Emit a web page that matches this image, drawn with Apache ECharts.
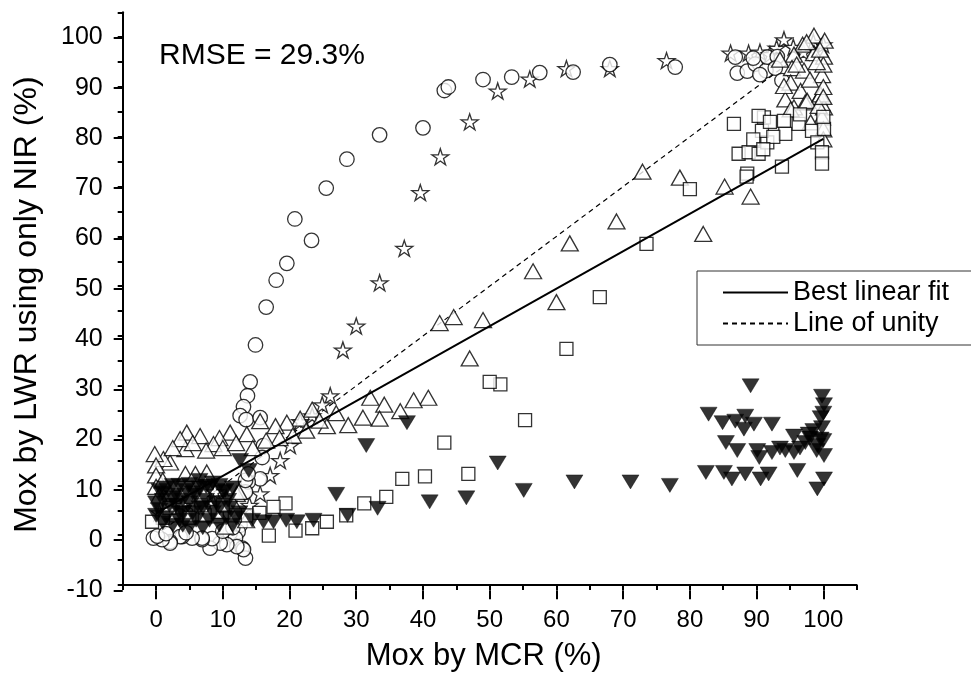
<!DOCTYPE html>
<html><head><meta charset="utf-8">
<script src="https://cdn.jsdelivr.net/npm/echarts@6/dist/echarts.min.js"></script>
<style>html,body{margin:0;padding:0;background:#fff}#c{width:971px;height:677px}</style>
</head><body><div id="c"></div>
<script>
// ---- data (Mox by MCR %, Mox by LWR using only NIR %) ----
const circles = [
  [43.2,89.3],[43.8,90.0],[49.0,91.5],[53.3,92.0],[57.5,92.9],[62.5,93.0],[68.0,94.5],[77.8,94.0],
  [86.8,96.0],[87.1,92.8],[88.6,93.2],[89.8,94.6],[91.4,93.3],[91.6,96.0],[93.1,96.1],[92.8,93.8],
  [93.8,91.3],[89.5,95.8],[90.5,92.5],
  [40.0,81.8],[33.5,80.4],[28.6,75.5],[25.5,69.7],[23.3,59.2],[20.8,63.5],[19.6,54.6],[18.0,51.2],
  [16.5,45.8],[14.9,38.2],[14.1,30.8],[13.7,28.0],[13.1,25.8],[12.6,24.0],[13.5,23.2],[15.6,23.6],
  [16.1,18.0],[15.6,11.3],[13.8,10.7],[13.4,8.7],[13.4,11.0],[13.8,12.3],[15.9,15.6],
  [12.6,2.0],[12.3,0.7],[11.1,0.4],[11.9,-0.6],[12.9,-2.6],[13.4,-4.6],[13.1,-2.9],[12.1,-2.3],
  [10.6,-1.9],[9.6,-1.6],[8.1,-2.6],[8.4,-0.7],[6.9,-0.9],[6.9,-0.6],[5.4,-0.6],[3.9,-0.3],[3.6,-0.3],
  [2.1,-1.3],[2.1,-1.6],[0.9,-0.9],[-0.4,-0.6],[0.2,-0.2],[1.5,0.3],[4.5,0.5],[10.0,0.8],[11.5,1.5]
];
const stars = [
  [76.5,95.3],[68.0,93.7],[61.5,93.7],[56.0,91.6],[51.2,89.2],[47.0,83.0],[42.6,76.0],[39.6,68.8],
  [37.2,57.6],[33.5,50.7],[30.0,42.0],[28.0,37.2],[26.1,28.0],[24.9,26.2],[23.4,24.0],[21.6,22.8],
  [20.1,18.0],[18.6,15.0],[17.1,12.0],[15.6,8.3],[8.8,8.7],[8.6,6.4],[6.0,5.5],[4.0,6.0],[2.0,5.0],
  [0.5,4.5],[10.5,7.5],[12.0,5.0],[14.0,6.0],
  [86.1,96.8],[88.8,96.8],[90.5,97.0],[92.0,96.5],[94.1,99.5],[95.5,98.0],[97.0,97.0],[98.5,99.0],
  [100.0,98.5],[93.0,97.8]
];
const triangles = [
  [98.6,100.3],[96.9,98.5],[95.6,96.5],[98.6,96.8],[100.2,99.3],[100.1,96.1],[95.3,93.8],[97.1,93.3],
  [99.8,92.4],[95.1,90.9],[96.6,89.2],[99.3,87.9],[94.3,87.5],[95.6,85.9],[97.3,86.9],[100.1,85.9],
  [99.8,83.9],[98.1,82.9],[94.1,90.2],[97.6,87.2],[99.6,88.5],[99.3,86.2],[95.1,85.5],[100.0,94.5],
  [99.0,95.0],[98.0,91.5],[100.0,90.0],[96.0,94.5],[100.0,81.5],[100.0,79.5],[99.5,97.5],[97.5,99.0],
  [93.5,95.5],[100.0,88.0],
  [72.9,73.0],[78.5,71.8],[85.2,70.0],[89.1,68.0],[82.0,60.5],[69.0,63.0],[62.0,58.6],[60.0,46.8],
  [56.5,53.0],[49.0,43.2],[47.0,35.5],[44.6,43.8],[42.5,42.6],[40.8,27.6],[38.6,27.1],[36.6,24.9],
  [34.2,26.2],[33.5,23.4],[32.1,27.6],[31.0,23.6],[28.8,22.1],[25.6,21.9],[23.4,25.2],[21.6,23.4],
  [19.6,22.6],[17.9,21.9],[24.5,23.0],[27.0,24.5],[22.5,21.0],[20.5,20.0],[18.5,19.5],
  [15.6,22.9],[13.6,20.3],[11.1,20.6],[9.5,19.5],[8.6,18.3],[6.6,19.9],[4.6,20.6],[4.4,17.3],
  [3.6,19.3],[2.1,14.6],[1.1,15.3],[-0.2,16.3],[0.0,14.0],[0.0,12.0],[0.0,9.7],[4.4,12.3],[5.9,12.3],
  [7.6,12.6],[12.1,8.3],[10.0,17.5],[12.0,18.5],[14.5,17.5],[16.5,19.0],[7.5,17.0],[5.5,18.5],
  [2.5,17.5],[1.0,11.0],[0.5,8.0],[9.5,4.0],[11.5,6.5],[13.5,3.0],[10.4,1.7],[12.4,8.7]
];
const squares = [
  [86.6,82.6],[80.0,69.5],[88.6,72.6],[93.8,74.0],[87.3,76.6],[88.8,76.9],[90.3,76.6],[91.6,78.9],
  [90.8,81.2],[91.1,83.9],[90.3,84.2],[94.1,83.2],[94.3,80.6],[96.3,82.6],[98.3,81.2],[100.1,81.6],
  [99.1,78.9],[99.8,76.9],[99.8,74.6],[92.5,80.0],[89.5,79.5],[91.0,77.5],[100.0,84.0],[96.5,84.5],
  [88.5,72.0],[92.0,83.0],
  [73.5,58.5],[66.5,47.8],[61.5,37.4],[55.3,23.1],[51.6,30.3],[50.0,30.8],[43.2,18.6],[46.8,12.3],
  [40.3,11.8],[36.9,11.3],[34.5,7.7],[31.2,6.4],[28.5,4.0],[25.6,2.7],[23.4,1.4],[20.9,0.9],
  [16.9,-0.1],[19.4,6.4],[17.6,5.7],[15.5,4.5],[13.5,4.0],[11.8,4.0],[9.1,4.7],[7.3,4.0],[5.0,3.5],
  [3.0,4.0],[1.0,3.5],[-0.6,2.7],[2.0,5.5],[6.8,6.0],[10.0,6.0]
];
const downTriangles = [
  [89.1,30.0],[82.8,24.3],[84.9,22.6],[86.8,22.9],[88.3,23.9],[88.1,21.3],[89.6,22.3],[92.3,22.3],
  [85.4,18.6],[87.1,17.0],[90.1,17.0],[90.4,15.6],[92.3,16.6],[94.3,17.0],[95.6,16.6],[95.6,19.9],
  [97.3,18.6],[97.8,20.3],[99.8,27.9],[100.1,26.2],[99.6,23.6],[99.8,21.6],[99.6,19.3],[99.1,18.0],
  [100.1,16.0],[82.4,12.6],[85.1,12.6],[86.3,11.3],[88.3,12.3],[90.6,11.3],[91.8,12.3],[96.1,13.0],
  [99.1,9.3],[100.1,11.3],[98.5,21.0],[96.5,17.5],[93.5,17.5],[100.0,24.5],[99.0,17.0],[100.0,19.0],
  [98.0,19.5],
  [77.0,10.0],[71.1,10.7],[62.7,10.7],[55.1,9.0],[51.2,14.5],[46.5,7.5],[41.0,6.7],[37.6,22.6],
  [31.5,18.0],[33.2,5.4],[28.7,4.0],[27.0,8.2],[23.6,3.0],[21.1,2.7],[19.5,3.0],[17.6,2.7],[16.1,2.7],
  [14.4,3.0],
  [12.6,15.0],[13.9,13.0],[10.4,9.0],[10.1,8.7],[12.0,3.5],[11.0,5.5],[9.5,2.0],[8.5,4.5],[7.5,7.0],
  [6.5,9.5],[6.0,3.0],[5.0,6.5],[4.5,9.0],[3.5,4.5],[3.0,8.0],[2.5,10.0],[2.0,6.0],[1.0,8.5],
  [0.5,5.0],[0.0,6.5],[0.0,4.0],[1.5,3.5],[4.0,2.0],[7.0,1.5],[8.0,9.5],[9.0,6.5],[5.5,4.5],[3.0,6.0],
  [1.0,7.0],[6.5,11.0],
  [1.5,9.5],[3.5,10.0],[5.0,10.2],[6.0,8.0],[7.5,9.8],[8.5,10.5],[9.5,10.0],[10.8,7.0],[11.5,9.5],
  [2.5,7.5],[4.0,7.0],[5.5,8.5],[7.0,5.5],[8.0,3.0],[9.5,5.5],[10.5,3.5],[1.0,2.5],[2.5,2.0],
  [3.5,3.0],[5.0,1.5],[6.5,5.5],[0.5,9.0],[11.5,2.0],[12.5,4.5],[4.0,4.5]
];
const fitLine = [[0,4.4],[100,79.6]];
const unityLine = [[0,0],[100,100]];
const legendNames = ['Best linear fit','Line of unity'];
const xRange = [-5,105], yRange = [-10,105];
const xLabelRange = [0,100], yLabelRange = [-10,100];
const majorStep = 10, minorStep = 5;
const rmseText = 'RMSE = 29.3%';
const xTitle = 'Mox by MCR (%)';
const yTitle = 'Mox by LWR using only NIR (%)';

// ---- layout ----
const FONT = 'Liberation Sans, Arial, sans-serif';
const G = {left:122.7, right:114.3, top:12.3, bottom:86.7};
const W = 971, H = 677;
const pw = W - G.left - G.right, ph = H - G.top - G.bottom;
const ux = pw/(xRange[1]-xRange[0]), uy = ph/(yRange[1]-yRange[0]);
const G2 = {
  left: G.left + (xLabelRange[0]-xRange[0])*ux,
  right: G.right + (xRange[1]-xLabelRange[1])*ux,
  top: G.top + (yRange[1]-yLabelRange[1])*uy,
  bottom: G.bottom + (yLabelRange[0]-yRange[0])*uy
};
const yOffset = (xLabelRange[0]-xRange[0])*ux;

const chart = echarts.init(document.getElementById('c'), null, {renderer:'canvas'});
const black = '#000';
const openStyle = {color:'#fff', borderColor:black, borderWidth:1.3};
const star = 'path://M50,0 L61.2,34.5 L97.6,34.5 L68.2,55.9 L79.4,90.5 L50,69.1 L20.6,90.5 L31.8,55.9 L2.4,34.5 L38.8,34.5 Z';

chart.setOption({
  animation:false,
  backgroundColor:'#fff',
  grid:[
    {left:G.left, right:G.right, top:G.top, bottom:G.bottom, containLabel:false},
    {left:G2.left, right:G2.right, top:G2.top, bottom:G2.bottom, containLabel:false}
  ],
  xAxis:[
    {type:'value', gridIndex:0, min:xRange[0], max:xRange[1], interval:minorStep,
     axisLine:{onZero:false, lineStyle:{color:black, width:2}},
     axisTick:{length:5, lineStyle:{color:black, width:2}},
     axisLabel:{show:false}, splitLine:{show:false},
     name:xTitle, nameLocation:'middle', nameGap:56,
     nameTextStyle:{fontFamily:FONT, fontSize:31, color:black, padding:[0,12,0,0]}},
    {type:'value', gridIndex:1, min:xLabelRange[0], max:xLabelRange[1], interval:majorStep,
     axisLine:{show:false, onZero:false},
     axisTick:{show:true, length:9, lineStyle:{color:black, width:2}},
     axisLabel:{fontFamily:FONT, fontSize:24, color:black, margin:18},
     splitLine:{show:false}}
  ],
  yAxis:[
    {type:'value', gridIndex:0, min:yRange[0], max:yRange[1], interval:minorStep,
     axisLine:{onZero:false, lineStyle:{color:black, width:2}},
     axisTick:{length:5, lineStyle:{color:black, width:2}},
     axisLabel:{show:false}, splitLine:{show:false},
     name:yTitle, nameLocation:'middle', nameGap:80,
     nameTextStyle:{fontFamily:FONT, fontSize:32, color:black, padding:[0,12,0,0]}},
    {type:'value', gridIndex:1, min:yLabelRange[0], max:yLabelRange[1], interval:majorStep,
     offset:yOffset,
     axisLine:{show:false, onZero:false},
     axisTick:{show:true, length:9, lineStyle:{color:black, width:2}},
     axisLabel:{fontFamily:FONT, fontSize:25, color:black, margin:20},
     splitLine:{show:false}}
  ],
  title:{text:rmseText, left:159, top:41, padding:0,
    textStyle:{fontFamily:FONT, fontSize:30, fontWeight:'normal', color:black}},
  legend:{
    data:legendNames, orient:'vertical', left:697, top:271,
    itemWidth:65, itemHeight:12, itemGap:4,
    padding:[8,40,8,25], borderColor:'#333', borderWidth:1,
    itemStyle:{opacity:0, color:'transparent', borderWidth:0},
    textStyle:{fontFamily:FONT, fontSize:27, color:black},
    selectedMode:false
  },
  series:[
    {name:legendNames[1], type:'line', data:unityLine, xAxisIndex:0, yAxisIndex:0,
     symbol:'none', itemStyle:{color:black}, lineStyle:{color:black, width:1.2, type:[5,4]}, z:1, silent:true},
    {type:'scatter', data:stars, symbol:star, symbolSize:[17,16], itemStyle:openStyle, z:2},
    {type:'scatter', data:circles, symbol:'circle', symbolSize:14.5, itemStyle:openStyle, z:3},
    {type:'scatter', data:triangles, symbol:'triangle', symbolSize:[17,15], itemStyle:openStyle, z:4},
    {type:'scatter', data:squares, symbol:'rect', symbolSize:13, itemStyle:openStyle, z:5},
    {type:'scatter', data:downTriangles, symbol:'triangle', symbolRotate:180, symbolSize:[17,14],
     itemStyle:{color:black, borderColor:black, borderWidth:0.5}, z:6},
    {name:legendNames[0], type:'line', data:fitLine, xAxisIndex:0, yAxisIndex:0,
     symbol:'none', itemStyle:{color:black}, lineStyle:{color:black, width:2}, z:7, silent:true}
  ]
});
</script></body></html>
